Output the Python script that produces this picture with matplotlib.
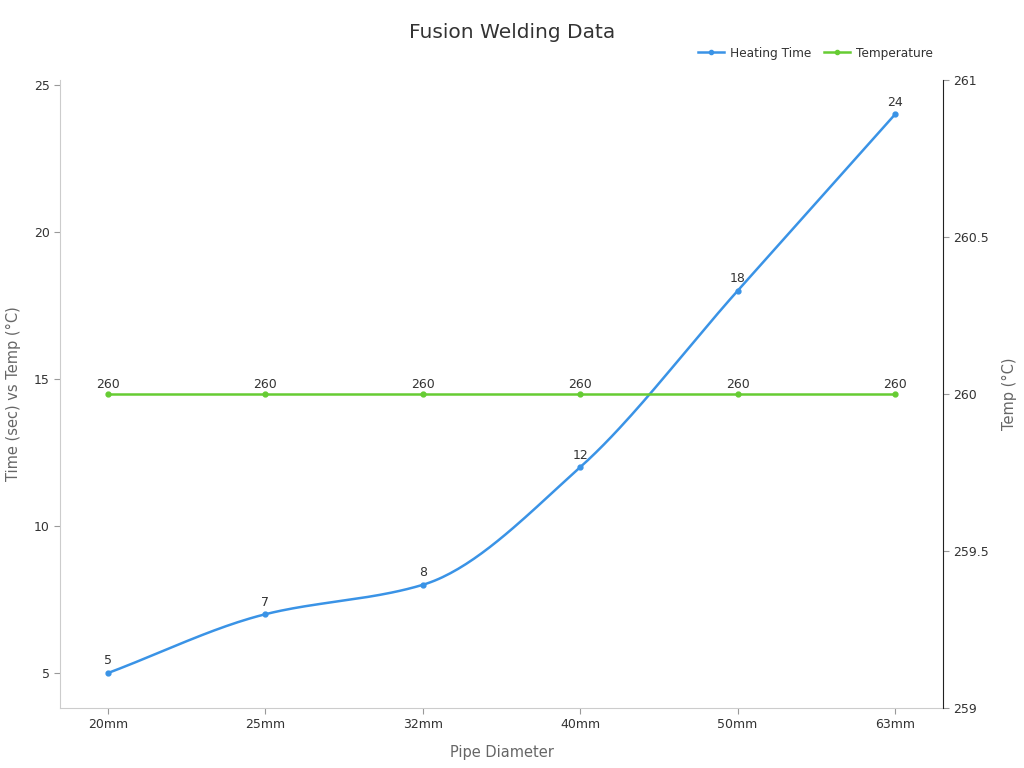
import numpy as np
import matplotlib
matplotlib.use("Agg")
import matplotlib.pyplot as plt
from matplotlib.lines import Line2D

categories = ["20mm", "25mm", "32mm", "40mm", "50mm", "63mm"]
heating_time = [5, 7, 8, 12, 18, 24]
temperature = [260, 260, 260, 260, 260, 260]

BLUE = "#3a93e6"
GREEN = "#66cc33"


def monotone_curve(x, y, n=40):
    x = np.asarray(x, float)
    y = np.asarray(y, float)
    h = np.diff(x)
    d = np.diff(y) / h
    m = np.zeros_like(y)
    m[0], m[-1] = d[0], d[-1]
    for i in range(1, len(y) - 1):
        if d[i - 1] * d[i] <= 0:
            m[i] = 0
        else:
            w1 = 2 * h[i] + h[i - 1]
            w2 = h[i] + 2 * h[i - 1]
            m[i] = (w1 + w2) / (w1 / d[i - 1] + w2 / d[i])
    xs, ys = [], []
    for i in range(len(x) - 1):
        t = np.linspace(0, 1, n, endpoint=(i == len(x) - 2))
        h00 = 2 * t**3 - 3 * t**2 + 1
        h10 = t**3 - 2 * t**2 + t
        h01 = -2 * t**3 + 3 * t**2
        h11 = t**3 - t**2
        xs.append(x[i] + t * h[i])
        ys.append(h00 * y[i] + h10 * h[i] * m[i] + h01 * y[i + 1] + h11 * h[i] * m[i + 1])
    return np.concatenate(xs), np.concatenate(ys)


fig = plt.figure(figsize=(10.24, 7.68), dpi=100)
ax = fig.add_axes([60 / 1024, 60 / 768, 883 / 1024, 628 / 768])
ax2 = ax.twinx()

xi = np.arange(len(categories))
cx, cy = monotone_curve(xi, heating_time)
ax.plot(cx, cy, color=BLUE, lw=1.8, zorder=3)
ax.plot(xi, heating_time, "o", color=BLUE, ms=3.5, zorder=4)
for x, v in zip(xi, heating_time):
    ax.annotate(str(v), (x, v), xytext=(0, 4), textcoords="offset points",
                ha="center", va="bottom", fontsize=9, color="#333333")

ax2.plot(xi, temperature, color=GREEN, lw=1.8, marker="o", ms=3.5, zorder=3)
for x, v in zip(xi, temperature):
    ax2.annotate(str(v), (x, v), xytext=(0, 2), textcoords="offset points",
                 ha="center", va="bottom", fontsize=9, color="#333333")

ax.set_xlim(-0.305, 5.305)
ax.set_ylim(3.81, 25.17)
ax.set_yticks([5, 10, 15, 20, 25])
ax2.set_ylim(259, 261)
ax2.set_yticks([259, 259.5, 260, 260.5, 261])
ax2.set_yticklabels(["259", "259.5", "260", "260.5", "261"])
ax.set_xticks(xi)
ax.set_xticklabels(categories)

for a in (ax, ax2):
    a.spines["top"].set_visible(False)
ax.spines["left"].set_color("#cccccc")
ax.spines["bottom"].set_color("#cccccc")
ax.spines["right"].set_visible(False)
ax2.spines["left"].set_visible(False)
ax2.spines["bottom"].set_visible(False)
ax2.spines["right"].set_color("#222222")

ax.tick_params(axis="both", colors="#999999", labelcolor="#333333", labelsize=9, length=4)
ax2.tick_params(axis="y", colors="#999999", labelcolor="#333333", labelsize=9, length=4)

ax.set_xlabel("Pipe Diameter", fontsize=10.5, color="#666666", labelpad=10)
ax.set_ylabel("Time (sec) vs Temp (°C)", fontsize=10.5, color="#666666", labelpad=9)
ax2.set_ylabel("Temp (°C)", fontsize=10.5, color="#666666", labelpad=9)

fig.text(0.5, 1 - 33 / 768, "Fusion Welding Data", ha="center", va="center",
         fontsize=14.5, color="#333333")

handles = [Line2D([0], [0], color=BLUE, lw=1.8, marker="o", ms=3),
           Line2D([0], [0], color=GREEN, lw=1.8, marker="o", ms=3)]
fig.legend(handles, ["Heating Time", "Temperature"], loc="center right",
           bbox_to_anchor=(944 / 1024, 1 - 53 / 768), ncol=2, frameon=False,
           fontsize=8.7, handlelength=2.2, handletextpad=0.5, columnspacing=1.0,
           labelcolor="#333333")

fig.savefig("out.png", dpi=100)
